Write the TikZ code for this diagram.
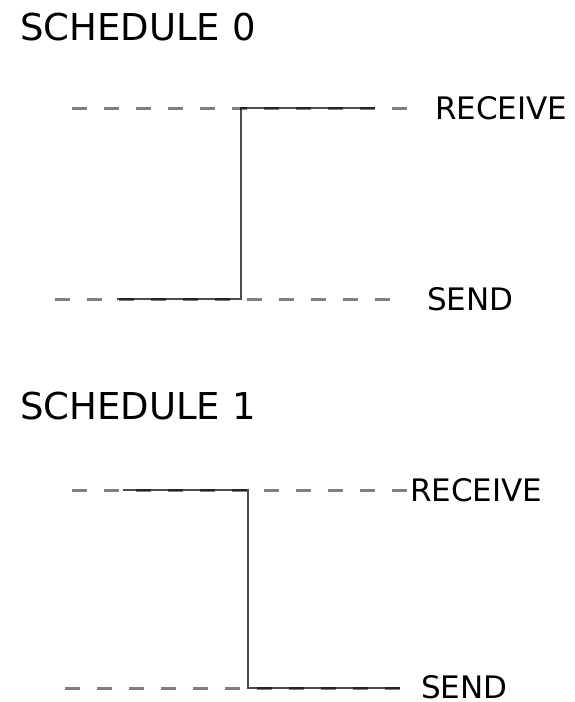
\documentclass[tikz,border=0pt]{standalone}
\usepackage{fontspec}
\setmainfont{DejaVu Sans}
\usetikzlibrary{positioning}

\tikzset{
  level/.style={draw=black, draw opacity=0.5, line width=3pt, dash pattern=on 15pt off 17pt},
  signal/.style={draw=black!70, line width=2.6pt},
  lbl/.style={anchor=west, inner sep=0pt, font=\fontsize{31}{31}\selectfont},
  title/.style={anchor=base west, inner sep=0pt, font=\fontsize{37}{37}\selectfont}
}

\begin{document}
\begin{tikzpicture}[x=1pt,y=1pt,yscale=-1,xscale=1]
\useasboundingbox (0,0) rectangle (575,702);

% Text Node
\node [title] (t0) at (20,40) {SCHEDULE 0};

%Straight Lines (signal)
\coordinate (p0a) at (117,299);
\coordinate (p0b) at (241,299);
\coordinate (p0c) at (241,108);
\coordinate (p0d) at (375,108);
\draw [signal] (p0a) -- (p0b) -- (p0c) -- (p0d);

%Straight Lines (levels)
\coordinate (r0a) at (72,108);
\coordinate (r0b) at (410,108);
\coordinate (s0a) at (55,299);
\coordinate (s0b) at (392,299);
\draw [level] (r0a) -- (r0b);
\draw [level] (s0a) -- (s0b);
\node [lbl] (rcv0) at (435,108) {RECEIVE};
\node [lbl] (snd0) at (427,299) {SEND};

% Text Node
\node [title] (t1) at (20,419) {SCHEDULE 1};

%Straight Lines (signal)
\coordinate (p1a) at (123,490);
\coordinate (p1b) at (248,490);
\coordinate (p1c) at (248,688);
\coordinate (p1d) at (400,688);
\draw [signal] (p1a) -- (p1b) -- (p1c) -- (p1d);

%Straight Lines (levels)
\coordinate (r1a) at (72,490);
\coordinate (r1b) at (408,490);
\coordinate (s1a) at (65,688);
\coordinate (s1b) at (400,688);
\draw [level] (r1a) -- (r1b);
\draw [level] (s1a) -- (s1b);
\node [lbl] (rcv1) at (410,490) {RECEIVE};
\node [lbl] (snd1) at (421,687) {SEND};

\end{tikzpicture}
\end{document}
